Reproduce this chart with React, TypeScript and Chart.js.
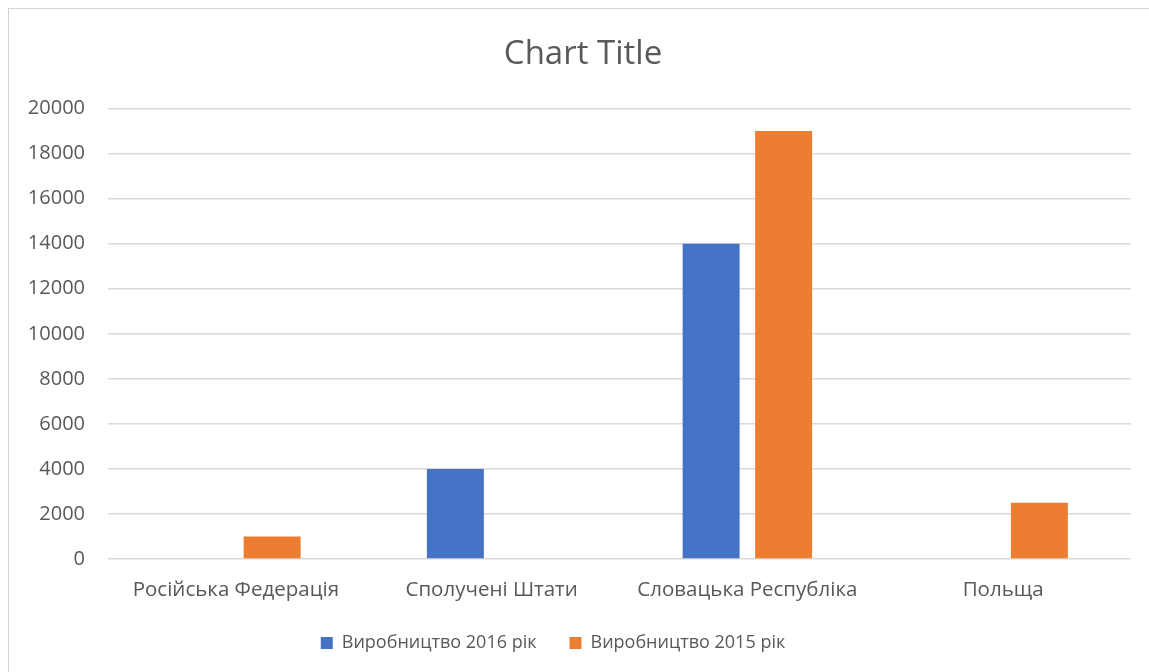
import React, { useEffect, useRef } from "react";
import { Chart, registerables } from "chart.js";

Chart.register(...registerables);

const categories = ["Російська Федерація", "Сполучені Штати", "Словацька Республіка", "Польща"];
const series2016 = [0, 4000, 14000, 0];
const series2015 = [1000, 0, 19000, 2500];
const seriesNames = ["Виробництво 2016 рік", "Виробництво 2015 рік"];
const yTicks = [0, 2000, 4000, 6000, 8000, 10000, 12000, 14000, 16000, 18000, 20000];

const FONT = "'Open Sans', 'Noto Sans', sans-serif";
const TEXT = "#595959";
const GRID = "#d9d9d9";

const shiftPlugin = {
  id: "shiftBlocks",
  afterLayout(chart: any) {
    const t = chart.titleBlock;
    if (t) {
      t.left += 13;
      t.right += 13;
    }
    const l = chart.legend;
    if (l) {
      l.left -= 17;
      l.right -= 17;
    }
  },
};

export default function App() {
  const ref = useRef<HTMLCanvasElement | null>(null);

  useEffect(() => {
    if (!ref.current) return;
    const chart = new Chart(ref.current, {
      type: "bar",
      data: {
        labels: categories,
        datasets: [
          {
            label: seriesNames[0],
            data: series2016,
            backgroundColor: "#4472C4",
            categoryPercentage: 0.567,
            barPercentage: 0.786,
          },
          {
            label: seriesNames[1],
            data: series2015,
            backgroundColor: "#ED7D31",
            categoryPercentage: 0.567,
            barPercentage: 0.786,
          },
        ],
      },
      options: {
        responsive: false,
        animation: false,
        layout: { padding: { left: 0, right: 18, top: 0, bottom: 10 } },
        plugins: {
          title: {
            display: true,
            text: "Chart Title",
            color: TEXT,
            font: { family: FONT, size: 33, weight: "normal" },
            padding: { top: 26, bottom: 34 },
          },
          legend: {
            position: "bottom",
            labels: {
              color: TEXT,
              font: { family: FONT, size: 18 },
              boxWidth: 12,
              boxHeight: 12,
              padding: 33,
            },
          },
          tooltip: { enabled: false },
        },
        scales: {
          x: {
            grid: { display: false },
            border: { display: false },
            ticks: {
              color: TEXT,
              font: { family: FONT, size: 20.5 },
              padding: 11,
              maxRotation: 0,
              autoSkip: false,
            },
            afterFit: (scale: any) => {
              scale.height = 42;
            },
          },
          y: {
            min: 0,
            max: 20000,
            afterBuildTicks: (scale: any) => {
              scale.ticks = yTicks.map((v) => ({ value: v }));
            },
            grid: { color: GRID, lineWidth: 1.5, drawTicks: false },
            border: { display: false },
            ticks: {
              color: TEXT,
              font: { family: FONT, size: 20 },
              padding: 23,
              callback: (v: any) => String(v),
            },
            afterFit: (scale: any) => {
              scale.width = 99;
            },
          },
        },
      },
      plugins: [shiftPlugin],
    });
    return () => chart.destroy();
  }, []);

  return (
    <div style={{ position: "absolute", left: 0, top: 0, width: 1149, height: 672, overflow: "hidden", background: "#fff" }}>
      <div
        style={{
          position: "absolute",
          left: 8,
          top: 8,
          width: 1160,
          height: 700,
          borderLeft: "1.5px solid #d4d4d4",
          borderTop: "1.5px solid #d4d4d4",
          boxSizing: "border-box",
        }}
      />
      <canvas
        ref={ref}
        width={1140}
        height={663}
        style={{ position: "absolute", left: 9, top: 9, width: 1140, height: 663 }}
      />
    </div>
  );
}
